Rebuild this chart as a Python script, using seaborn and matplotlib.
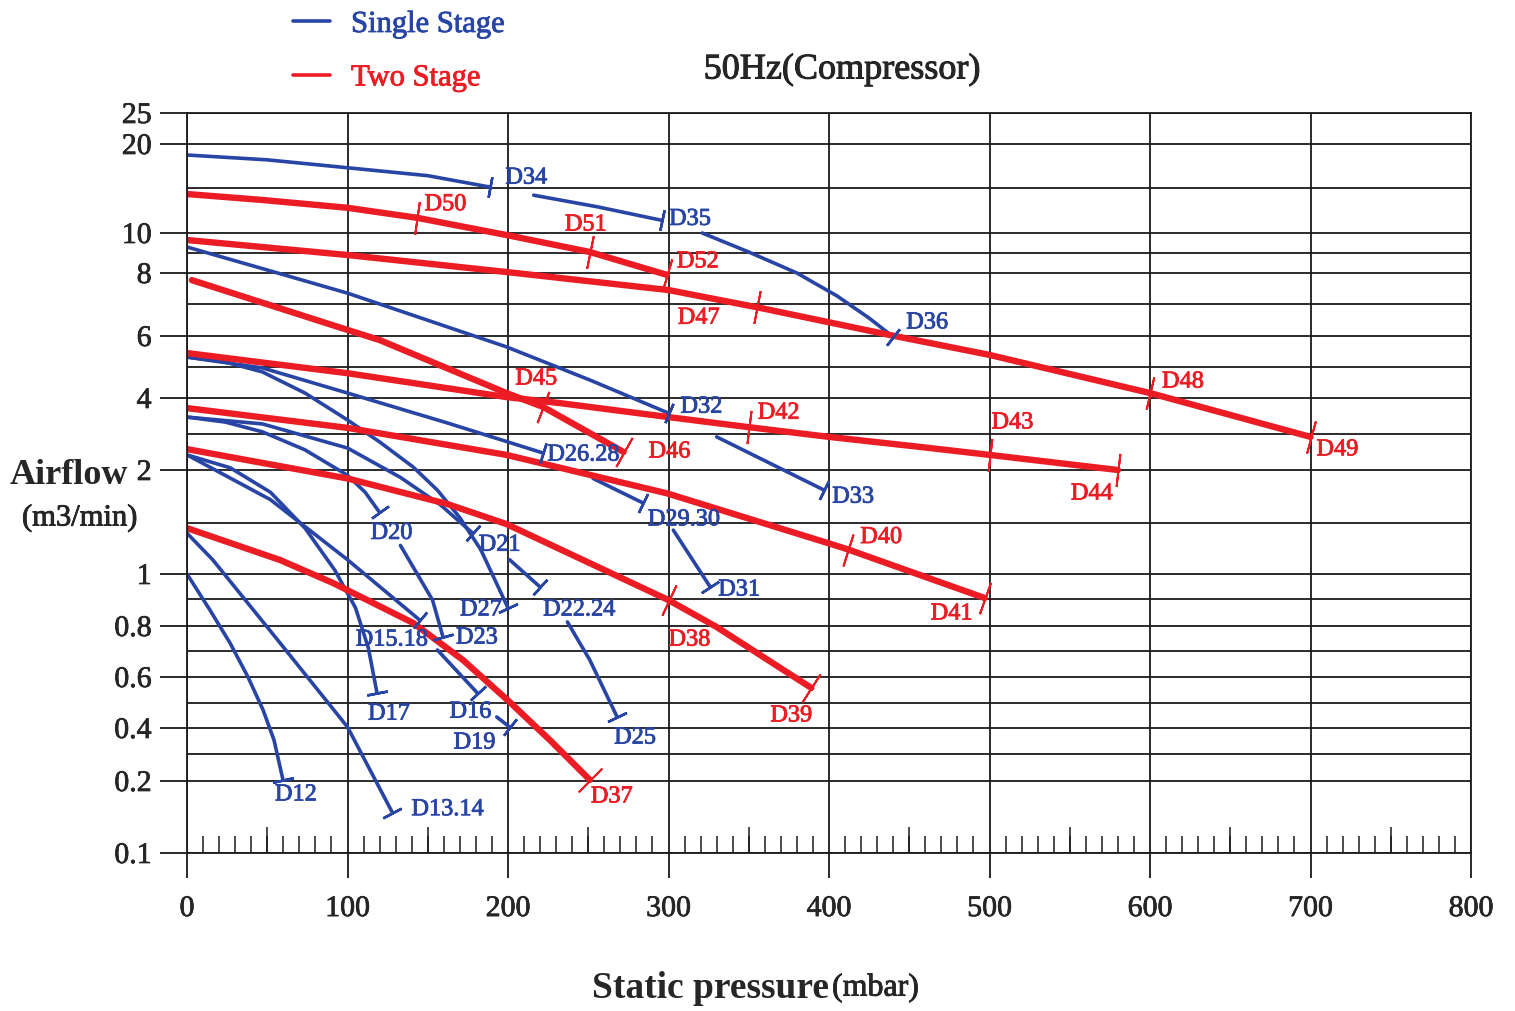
import numpy as np
import pandas as pd
import seaborn as sns
import matplotlib.pyplot as plt
import matplotlib.patheffects as pe
from matplotlib.lines import Line2D

sns.set_style('white')
plt.rcParams['font.family'] = ['Liberation Serif', 'DejaVu Serif']

BLUE = '#2844a4'
RED = '#ec1c24'

# ---- single stage curves: (static pressure mbar, airflow m3/min)
d34 = ([0, 50, 100, 150, 189], [18.75, 18.2, 17.3, 16.4, 15.1])
d35 = ([216, 256, 296], [14.2, 12.9, 11.4])
d36 = ([321, 350, 380, 405, 425, 440], [10.0, 9.05, 8.0, 7.26, 6.56, 5.97])
d32 = ([0, 50, 100, 199, 251, 300], [9.3, 8.15, 7.35, 5.65, 4.58, 3.58])
d33 = ([330, 397], [2.92, 1.81])
d26_28 = ([0, 47, 100, 162, 222], [5.32, 4.97, 4.16, 3.31, 2.47])
d29_30 = ([253, 284], [1.92, 1.69])
d31 = ([303, 326], [1.43, 0.948])
d27 = ([0, 24, 47, 73.5, 100, 120, 141, 156, 170, 183, 200],
       [5.32, 5.16, 4.84, 4.16, 3.39, 2.78, 2.08, 1.81, 1.55, 1.24, 0.867])
d20 = ([0, 24, 47, 73.5, 100, 111, 120], [3.47, 3.33, 3.06, 2.56, 1.95, 1.79, 1.60])
d23 = ([133, 153, 159.5], [1.28, 0.896, 0.756])
d21 = ([0, 47, 100, 133, 158, 178], [3.47, 3.28, 2.61, 1.93, 1.67, 1.40])
d22_24 = ([201, 220], [1.14, 0.948])
d25 = ([237, 251, 268], [0.815, 0.665, 0.444])
d17 = ([0, 27, 52, 73.5, 92, 105, 113, 118.4], [2.42, 2.06, 1.79, 1.45, 1.04, 0.867, 0.712, 0.538])
d15_18 = ([0, 52, 100, 145], [2.42, 1.72, 1.14, 0.822])
d16 = ([156, 181], [0.704, 0.538])
d19 = ([193, 201], [0.444, 0.404])
d13_14 = ([0, 16, 58, 100, 128], [1.40, 1.14, 0.732, 0.404, 0.156])
d12 = ([0, 14.3, 26.8, 38, 47.4, 54.2, 59.8], [1.0, 0.859, 0.732, 0.6, 0.472, 0.354, 0.204])

# ---- two stage curves
d50 = ([0, 47, 100, 143], [14.33, 13.67, 12.8, 11.7])
d51 = ([143, 199, 251], [11.7, 9.9, 9.05])
d52 = ([251, 299], [9.05, 7.94])
d47 = ([0, 100, 199, 300, 355], [9.65, 8.9, 8.05, 7.45, 6.9])
d48 = ([355, 438, 500, 600], [6.9, 6.03, 5.39, 4.16])
d49 = ([600, 700], [4.16, 2.92])
d45 = ([3, 100, 120, 199, 222], [7.77, 6.19, 5.87, 4.16, 3.75])
d46 = ([222, 272], [3.75, 2.5])
d42 = ([0, 100, 199, 232, 300, 350], [5.45, 4.8, 4.03, 3.86, 3.47, 3.19])
d43 = ([350, 400, 457, 500], [3.19, 2.92, 2.64, 2.42])
d44 = ([500, 580], [2.42, 2.0])
d40 = ([0, 100, 199, 299, 400, 412], [3.72, 3.17, 2.42, 1.78, 1.30, 1.24])
d41 = ([412, 497], [1.24, 0.904])
d38 = ([0, 100, 162, 199, 300], [2.58, 1.92, 1.68, 1.49, 0.896])
d39 = ([300, 330, 389], [0.896, 0.796, 0.558])
d37 = ([0, 58, 91, 141, 172, 201, 226, 251], [1.45, 1.137, 0.964, 0.811, 0.665, 0.504, 0.354, 0.204])

single = {'D34': d34, 'D35': d35, 'D36': d36, 'D32': d32, 'D33': d33,
          'D26.28': d26_28, 'D29.30': d29_30, 'D31': d31, 'D27': d27,
          'D20': d20, 'D23': d23, 'D21': d21, 'D22.24': d22_24, 'D25': d25,
          'D17': d17, 'D15.18': d15_18, 'D16': d16, 'D19': d19,
          'D13.14': d13_14, 'D12': d12}
two = {'D50': d50, 'D51': d51, 'D52': d52, 'D47': d47, 'D48': d48, 'D49': d49,
       'D45': d45, 'D46': d46, 'D42': d42, 'D43': d43, 'D44': d44,
       'D40': d40, 'D41': d41, 'D38': d38, 'D39': d39, 'D37': d37}

# label offsets from the end marker (pixels)
label_offset = {
    'D34': (15, 9), 'D35': (7, 1), 'D36': (13, 14), 'D32': (12, 6), 'D33': (8, -7),
    'D26.28': (4, -2), 'D29.30': (5, -17), 'D31': (8, -3), 'D27': (-48, -2),
    'D20': (-9, -21), 'D23': (13, -1), 'D21': (6, -12), 'D22.24': (3, -23),
    'D25': (-3, -21), 'D17': (-9, -21), 'D15.18': (-64, -20), 'D16': (-28, -19),
    'D19': (-56, -16), 'D13.14': (19, 3), 'D12': (-8, -15),
    'D50': (8, 13), 'D51': (-25, 27), 'D52': (10, 13), 'D47': (-79, -11),
    'D48': (12, 11), 'D49': (6, -13), 'D45': (-28, 28), 'D46': (25, 0),
    'D42': (9, 14), 'D43': (2, 32), 'D44': (-47, -24), 'D40': (12, 12),
    'D41': (-54, -16), 'D38': (0, -40), 'D39': (-41, -28), 'D37': (1, -17),
}

rows = []
for stage, group in [('Single Stage', single), ('Two Stage', two)]:
    for name, (p, q) in group.items():
        for pi, qi in zip(p, q):
            rows.append((stage, name, pi, qi))
df = pd.DataFrame(rows, columns=['stage', 'model', 'pressure', 'airflow'])

# irregular airflow scale of the printed chart (value -> height)
Y_GRID = [0.1, 0.2, 0.3, 0.4, 0.5, 0.6, 0.7, 0.8, 0.9, 1, 1.5, 2, 3, 4, 5, 6, 7, 8, 9, 10, 15, 20, 25]
Y_POS = [0, 72, 99, 125, 150, 176, 202, 227, 254, 279, 330, 383, 419, 455, 486, 517, 549, 580, 600, 620, 665, 709, 740]
Y_LABELED = [0.1, 0.2, 0.4, 0.6, 0.8, 1, 2, 4, 6, 8, 10, 20, 25]
Y_LABELS = ['0.1', '0.2', '0.4', '0.6', '0.8', '1', '2', '4', '6', '8', '10', '20', '25']


def fwd(v):
    return np.interp(v, Y_GRID, Y_POS)


def inv(p):
    return np.interp(p, Y_POS, Y_GRID)


def heavy(color, w=0.6):
    return [pe.withStroke(linewidth=w, foreground=color)]


fig = plt.figure(figsize=(15.15, 10.11), dpi=100)
ax = fig.add_axes([187 / 1515, 158 / 1011, 1284 / 1515, 740 / 1011])
ax.set_yscale('function', functions=(fwd, inv))

sns.lineplot(data=df, x='pressure', y='airflow', hue='stage', size='stage',
             sizes={'Single Stage': 2.6, 'Two Stage': 4.6},
             palette={'Single Stage': BLUE, 'Two Stage': RED},
             units='model', estimator=None, sort=False, legend=False, ax=ax,
             solid_capstyle='round', solid_joinstyle='round')

ax.set_xlim(0, 800)
ax.set_ylim(0.1, 25)
ax.set_xlabel('')
ax.set_ylabel('')

ax.set_xticks(range(0, 801, 100))
ax.set_xticks([v for v in range(10, 800, 10) if v % 100], minor=True)
ax.set_yticks(Y_LABELED)
ax.set_yticklabels(Y_LABELS)
ax.set_yticks([v for v in Y_GRID if v not in Y_LABELED], minor=True)

ax.grid(True, which='major', axis='x', color='#1a1a1a', lw=1.3)
ax.grid(True, which='both', axis='y', color='#1a1a1a', lw=1.3)
for s in ax.spines.values():
    s.set_color('#1a1a1a')
    s.set_linewidth(1.3)

ax.tick_params(axis='x', which='major', bottom=True, direction='out', length=18, width=1.3,
               color='#1a1a1a', labelsize=21.5, pad=13)
ax.tick_params(axis='x', which='minor', bottom=True, direction='in', length=12.5, width=1.1,
               color='#1a1a1a')
ax.tick_params(axis='y', which='major', left=True, direction='out', length=19.5, width=1.3,
               color='#1a1a1a', labelsize=21.5, pad=6)
ax.tick_params(axis='y', which='minor', left=False, length=0)
for t in ax.get_xticklabels() + ax.get_yticklabels():
    t.set_path_effects(heavy('#1a1a1a', 0.5))

sec = ax.secondary_xaxis('bottom')
sec.set_xticks(range(50, 800, 100))
sec.tick_params(bottom=True, direction='in', length=19, width=1.1, color='#1a1a1a',
                labelbottom=False)
sec.spines['bottom'].set_visible(False)

# end markers and model labels
for stage, group, color, ms, mew in [('Single Stage', single, BLUE, 15, 1.8),
                                     ('Two Stage', two, RED, 24, 1.4)]:
    for name, (p, q) in group.items():
        pts = ax.transData.transform(np.column_stack([p[-2:], q[-2:]]))
        ang = np.degrees(np.arctan2(pts[1, 1] - pts[0, 1], pts[1, 0] - pts[0, 0]))
        ax.plot(p[-1], q[-1], ls='', marker=(2, 2, ang), ms=ms, mew=mew, mec=color)
        ax.annotate(name, xy=(p[-1], q[-1]), xytext=label_offset[name],
                    textcoords='offset pixels', ha='left', va='center',
                    color=color, fontsize=17.5, path_effects=heavy(color, 0.6))

fig.text(842 / 1515, 1 - 70 / 1011, '50Hz(Compressor)', ha='center', va='center',
         fontsize=26, path_effects=heavy('#1a1a1a', 0.7))
fig.text(10 / 1515, 1 - 476 / 1011, 'Airflow', ha='left', va='center', fontsize=26, fontweight='bold')
fig.text(22 / 1515, 1 - 518 / 1011, '(m3/min)', ha='left', va='center', fontsize=22,
         path_effects=heavy('#1a1a1a', 0.6))
fig.text(829 / 1515, 1 - 988 / 1011, 'Static pressure', ha='right', va='center', fontsize=27, fontweight='bold')
fig.text(832 / 1515, 1 - 988 / 1011, '(mbar)', ha='left', va='center', fontsize=23,
         path_effects=heavy('#1a1a1a', 0.6))

handles = [Line2D([], [], color=BLUE, lw=2.6), Line2D([], [], color=RED, lw=2.6)]
leg = fig.legend(handles, ['Single Stage', 'Two Stage'], loc='upper left',
                 bbox_to_anchor=(293 / 1515, 1 - 10 / 1011), frameon=False,
                 fontsize=22, handlelength=1.2, handletextpad=0.7, labelspacing=0.8,
                 borderpad=0, borderaxespad=0, labelcolor='linecolor')
for t in leg.get_texts():
    t.set_path_effects(heavy(t.get_color(), 0.6))

fig.savefig('out.png', dpi=100)
